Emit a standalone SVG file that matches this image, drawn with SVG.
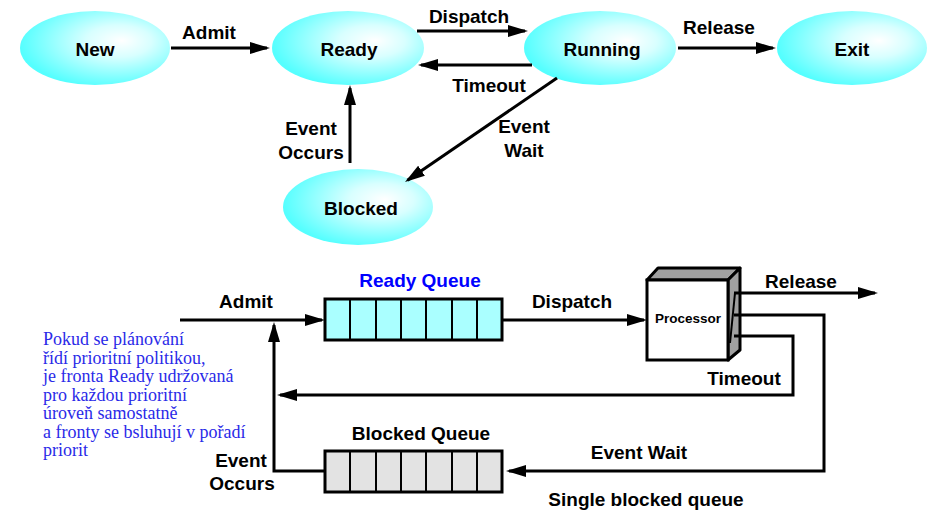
<svg xmlns="http://www.w3.org/2000/svg" width="932" height="510" viewBox="0 0 932 510">
  <defs>
    <radialGradient id="stateFill" cx="0.62" cy="0.42" r="0.62" fx="0.68" fy="0.4">
      <stop offset="0" stop-color="#ffffff"/>
      <stop offset="0.35" stop-color="#d8ffff"/>
      <stop offset="1" stop-color="#55ffff"/>
    </radialGradient>
    <marker id="arrow" markerWidth="20" markerHeight="12" refX="17" refY="6" orient="auto" markerUnits="userSpaceOnUse">
      <path d="M0,0 L20,6 L0,12 Z" fill="#000"/>
    </marker>
  </defs>
  <style>
    .state { fill: url(#stateFill); }
    .lbl { font-family: "Liberation Sans", Arial, sans-serif; font-weight: bold; font-size: 19px; fill: #000; text-anchor: middle; }
    .wire { fill: none; stroke: #000; stroke-width: 3; }
    .arr { marker-end: url(#arrow); }
    .qbox { stroke: #000; stroke-width: 3; }
    .qdiv { stroke: #000; stroke-width: 2; }
    .note { font-family: "Liberation Serif", "Times New Roman", serif; font-size: 18px; fill: #2a2ae8; }
  </style>

  <rect width="932" height="510" fill="#fff"/>

  <!-- five-state process model -->
  <g id="state-new">
    <ellipse class="state" cx="95" cy="48" rx="75" ry="37"/>
    <text class="lbl" x="95" y="56">New</text>
  </g>
  <g id="state-ready">
    <ellipse class="state" cx="348" cy="48" rx="76" ry="37"/>
    <text class="lbl" x="349" y="56">Ready</text>
  </g>
  <g id="state-running">
    <ellipse class="state" cx="600" cy="48" rx="76" ry="37"/>
    <text class="lbl" x="602" y="56">Running</text>
  </g>
  <g id="state-exit">
    <ellipse class="state" cx="852" cy="48" rx="75" ry="37"/>
    <text class="lbl" x="852" y="56">Exit</text>
  </g>
  <g id="state-blocked">
    <ellipse class="state" cx="358" cy="207" rx="75" ry="38"/>
    <text class="lbl" x="361" y="215">Blocked</text>
  </g>

  <!-- state transitions -->
  <g id="transitions">
    <line class="wire arr" x1="171" y1="48" x2="267" y2="48"/>
    <line class="wire arr" x1="417" y1="31" x2="525" y2="31"/>
    <line class="wire arr" x1="532" y1="65" x2="421" y2="65"/>
    <line class="wire arr" x1="678" y1="48" x2="773" y2="48"/>
    <line class="wire arr" x1="557" y1="78" x2="407.5" y2="180.3"/>
    <line class="wire arr" x1="350" y1="163" x2="350" y2="88"/>
    <text class="lbl" x="209" y="39">Admit</text>
    <text class="lbl" x="469" y="23">Dispatch</text>
    <text class="lbl" x="489" y="92">Timeout</text>
    <text class="lbl" x="719" y="34">Release</text>
    <text class="lbl" x="524" y="133">Event</text>
    <text class="lbl" x="524" y="157">Wait</text>
    <text class="lbl" x="311" y="135">Event</text>
    <text class="lbl" x="311" y="159">Occurs</text>
  </g>

  <!-- queueing view -->
  <g id="ready-queue">
    <text class="lbl" x="420" y="287" fill="#0000ff" style="fill:#0000ff">Ready Queue</text>
    <rect class="qbox" x="325" y="299" width="177" height="41" fill="#aaffff"/>
    <path class="qdiv" d="M350,299V340M376,299V340M401,299V340M426,299V340M452,299V340M477,299V340"/>
  </g>
  <g id="blocked-queue">
    <text class="lbl" x="421" y="440">Blocked Queue</text>
    <rect class="qbox" x="325" y="451" width="177" height="41" fill="#e3e3e3"/>
    <path class="qdiv" d="M350,451V492M376,451V492M401,451V492M426,451V492M452,451V492M477,451V492"/>
  </g>
  <g id="processor">
    <path d="M647,280 L658,268 L740,268 L728,280 Z" fill="#a0a0a0" stroke="#000" stroke-width="3" stroke-linejoin="round"/>
    <path d="M728,280 L740,268 L740,350 L728,360 Z" fill="#a0a0a0" stroke="#000" stroke-width="3" stroke-linejoin="round"/>
    <line x1="735" y1="293" x2="730" y2="343" stroke="#000" stroke-width="2"/>
    <rect x="647" y="280" width="81" height="80" fill="#fff" stroke="#000" stroke-width="3"/>
    <text class="lbl" x="688" y="323" style="font-size:13.5px">Processor</text>
  </g>

  <g id="queue-connectors">
    <line class="wire arr" x1="180" y1="320" x2="322" y2="320"/>
    <line class="wire arr" x1="502" y1="320" x2="644" y2="320"/>
    <line class="wire arr" x1="734" y1="293" x2="875" y2="293"/>
    <path class="wire arr" d="M734,315 H824 V471 H509"/>
    <path class="wire arr" d="M734,336 H793 V395 H280"/>
    <path class="wire arr" d="M325,471 H274 V325"/>
    <text class="lbl" x="246" y="308">Admit</text>
    <text class="lbl" x="572" y="308">Dispatch</text>
    <text class="lbl" x="801" y="288">Release</text>
    <text class="lbl" x="744" y="385">Timeout</text>
    <text class="lbl" x="639" y="459">Event Wait</text>
    <text class="lbl" x="241" y="467">Event</text>
    <text class="lbl" x="242" y="490">Occurs</text>
    <text class="lbl" x="646" y="506">Single blocked queue</text>
  </g>

  <!-- explanatory note -->
  <text class="note" x="43" y="345">Pokud se plánování</text>
  <text class="note" x="43" y="364">řídí prioritní politikou,</text>
  <text class="note" x="43" y="382">je fronta Ready udržovaná</text>
  <text class="note" x="43" y="401">pro každou prioritní</text>
  <text class="note" x="43" y="419">úroveň samostatně</text>
  <text class="note" x="43" y="438">a fronty se bsluhují v pořadí</text>
  <text class="note" x="43" y="456">priorit</text>
</svg>
